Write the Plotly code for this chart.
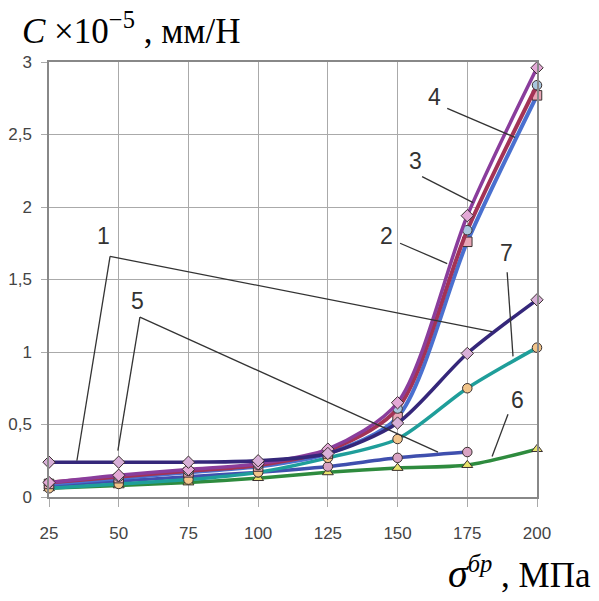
import plotly.graph_objects as go

# stress values, MPa
sigma = [25, 50, 75, 100, 125, 150, 175, 200]

# compliance C x 1e-5, mm/N, per curve
c1 = [0.24, 0.24, 0.24, 0.25, 0.30, 0.51, 0.99, 1.36]
c2 = [0.09, 0.13, 0.17, 0.21, 0.30, 0.55, 1.76, 2.77]
c3 = [0.10, 0.14, 0.18, 0.22, 0.32, 0.61, 1.84, 2.84]
c4 = [0.10, 0.15, 0.19, 0.23, 0.33, 0.65, 1.94, 2.96]
c5 = [0.08, 0.11, 0.14, 0.17, 0.21, 0.27, 0.31]
c6 = [0.06, 0.08, 0.10, 0.13, 0.17, 0.20, 0.22, 0.33]
c7 = [0.06, 0.09, 0.12, 0.17, 0.27, 0.40, 0.75, 1.03]

y_ticks = [0, 0.5, 1, 1.5, 2, 2.5, 3]
y_tick_text = ["0", "0,5", "1", "1,5", "2", "2,5", "3"]

# (values, line colour, marker symbol, marker fill, line width)
curves = [
    (c6, "#2e8b3e", "triangle-up", "#e8e36a", 3.5),
    (c5, "#3f4fae", "circle", "#d9a3c3", 3.5),
    (c7, "#1f9e9a", "circle", "#f2c58a", 3.5),
    (c2, "#4a70cf", "square", "#e9a6b6", 4),
    (c3, "#a33355", "circle", "#a9c7de", 4),
    (c4, "#8a3d9c", "diamond", "#e3a9d6", 3.5),
    (c1, "#35277a", "diamond", "#d8b0d8", 3.5),
]

fig = go.Figure()
for vals, lc, sym, fc, lw in curves:
    fig.add_trace(go.Scatter(
        x=sigma[:len(vals)], y=vals, mode="lines+markers",
        line=dict(color=lc, width=lw, shape="spline", smoothing=0.8),
        marker=dict(symbol=sym, size=9.5, color=fc,
                    line=dict(color="#3a3030", width=1)),
        showlegend=False, cliponaxis=False,
    ))

# curve numbers with leader lines (label pos, leader segments)
leaders = [
    ("1", (44.7, 1.80), [((35.0, 0.25), (46.9, 1.66)), ((46.9, 1.66), (183.9, 1.14))]),
    ("5", (56.9, 1.35), [((49.7, 0.32), (57.6, 1.24)), ((57.6, 1.24), (164.5, 0.31))]),
    ("2", (146.2, 1.80), [((150.9, 1.75), (167.8, 1.61))]),
    ("3", (156.3, 2.32), [((158.8, 2.21), (177.1, 2.03))]),
    ("4", (163.4, 2.76), [((167.8, 2.68), (192.1, 2.48))]),
    ("7", (188.9, 1.68), [((189.3, 1.55), (191.4, 0.97))]),
    ("6", (192.9, 0.67), [((189.6, 0.57), (183.9, 0.28))]),
]
for txt, (lx, ly), segs in leaders:
    for (x0, y0), (x1, y1) in segs:
        fig.add_shape(type="line", x0=x0, y0=y0, x1=x1, y1=y1,
                      xref="x", yref="y", line=dict(color="#333333", width=1.3))
    fig.add_annotation(x=lx, y=ly, text=txt, showarrow=False,
                       font=dict(family="Liberation Sans, Arial", size=23, color="#333333"))

fig.add_annotation(
    xref="paper", yref="paper", x=-0.06, y=1.0, yshift=9,
    xanchor="left", yanchor="bottom",
    text="<i>C</i> ×10<sup>−5</sup> , мм/Н", showarrow=False,
    font=dict(family="Liberation Serif, Times New Roman", size=35, color="#000000"),
)
fig.add_annotation(
    xref="paper", yref="paper", x=1.115, y=0, yshift=-101,
    xanchor="right", yanchor="bottom",
    text="<i><span style='font-size:40px'>σ</span><sup>бр</sup></i> , МПа", showarrow=False,
    font=dict(family="Liberation Serif, Times New Roman", size=35, color="#000000"),
)

axis_font = dict(family="Liberation Sans, Arial", size=17, color="#444444")
fig.update_xaxes(
    range=[25, 200], tickvals=sigma, ticktext=[str(v) for v in sigma],
    showgrid=True, gridcolor="#aaaaaa", gridwidth=1,
    showline=True, linecolor="#888888", linewidth=1.5, mirror=True,
    ticks="outside", ticklen=8, tickcolor="#aaaaaa",
    tickfont=axis_font, ticklabelstandoff=12, zeroline=False, automargin=False,
)
fig.update_yaxes(
    range=[0, 3], tickvals=y_ticks, ticktext=y_tick_text,
    showgrid=True, gridcolor="#aaaaaa", gridwidth=1,
    showline=True, linecolor="#888888", linewidth=1.5, mirror=True,
    ticks="outside", ticklen=6, tickcolor="#aaaaaa",
    tickfont=axis_font, ticklabelstandoff=6, zeroline=False, automargin=False,
)
fig.update_layout(
    width=599, height=601,
    margin=dict(l=49, r=62, t=62, b=104),
    paper_bgcolor="white", plot_bgcolor="white",
)

fig.write_html("out.html")
